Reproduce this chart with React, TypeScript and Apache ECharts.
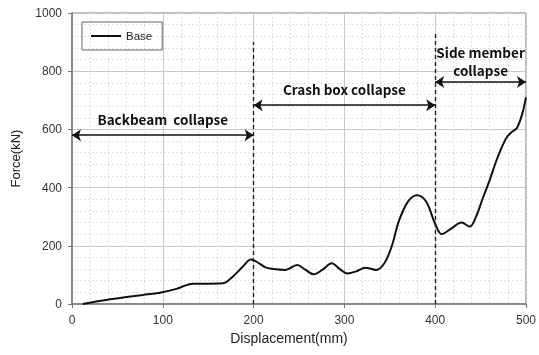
import React, { useEffect, useRef } from "react";
import * as echarts from "echarts";

const displacement = [12, 25, 42, 60, 78, 97, 115, 133, 150, 166, 177, 188, 197, 206, 213, 220, 235, 248, 257, 266, 276, 286, 295, 303, 313, 323, 335, 344, 352, 360, 370, 380, 390, 400, 407, 418, 429, 438, 445, 452, 460, 469, 478, 484, 490, 496, 500];
const force = [0, 8, 16, 24, 31, 39, 52, 70, 70, 71, 94, 128, 153, 140, 126, 121, 117, 134, 118, 102, 118, 140, 120, 105, 112, 125, 117, 140, 197, 285, 352, 374, 352, 275, 240, 260, 280, 266, 300, 360, 426, 506, 569, 590, 605, 655, 710];

const phaseBounds = [0, 200, 400, 500];
const phaseArrowY = [580, 683, 763];
const phaseLabels = ["Backbeam  collapse", "Crash box collapse", "Side member\ncollapse"];
const dividerX = [200, 400];
const dividerTop = [900, 930];

export default function App() {
  const ref = useRef<HTMLDivElement>(null);
  useEffect(() => {
    const chart = echarts.init(ref.current!, null, { renderer: "svg" });
    const data = displacement.map((d, i) => [d, force[i]]);
    const annoFont = {
      fontFamily: "Noto Sans CJK KR",
      fontSize: 13.5,
      fontWeight: "bold" as const,
      color: "#111",
    };
    const markData: any[] = [];
    for (let i = 0; i < 3; i++) {
      markData.push([
        {
          coord: [phaseBounds[i], phaseArrowY[i]],
          symbol: "arrow",
          label: {
            show: true,
            position: "insideMiddleTop",
            formatter: phaseLabels[i],
            distance: i === 2 ? 3 : 8,
            lineHeight: i === 2 ? 18 : 16,
            ...annoFont,
          },
        },
        { coord: [phaseBounds[i + 1], phaseArrowY[i]], symbol: "arrow" },
      ]);
    }
    for (let i = 0; i < 2; i++) {
      markData.push([
        {
          coord: [dividerX[i], 0],
          symbol: "none",
          lineStyle: { type: [4, 3], width: 1.4, color: "#222" },
          label: { show: false },
        },
        { coord: [dividerX[i], dividerTop[i]], symbol: "none" },
      ]);
    }
    chart.setOption({
      animation: false,
      grid: {
        left: 72,
        right: 11,
        top: 13,
        bottom: 51,
        show: true,
        borderColor: "#777",
        borderWidth: 1,
      },
      legend: {
        left: 82,
        top: 22,
        data: [{ name: "Base", icon: "rect" }],
        borderColor: "#666",
        borderWidth: 1,
        padding: [8, 10, 8, 9],
        itemWidth: 30,
        itemHeight: 2,
        itemGap: 6,
        textStyle: { fontFamily: "Liberation Sans", fontSize: 11.5, color: "#222" },
      },
      xAxis: {
        type: "value",
        min: 0,
        max: 500,
        interval: 100,
        name: "Displacement(mm)",
        nameLocation: "middle",
        nameGap: 26,
        nameTextStyle: {
          fontFamily: "Liberation Sans",
          fontSize: 14,
          color: "#222",
          padding: [0, 20, 0, 0],
        },
        axisLine: { lineStyle: { color: "#777", width: 1.5 } },
        axisTick: { show: true, length: 4, lineStyle: { color: "#777" } },
        axisLabel: { fontFamily: "Liberation Sans", fontSize: 12, color: "#333", margin: 10 },
        splitLine: { show: true, lineStyle: { color: "#c8c8c8", width: 1 } },
        minorTick: { show: false, splitNumber: 5 },
        minorSplitLine: { show: true, lineStyle: { color: "#e2e2e2", type: [2, 2], width: 1 } },
      },
      yAxis: {
        type: "value",
        min: 0,
        max: 1000,
        interval: 200,
        name: "Force(kN)",
        nameLocation: "middle",
        nameGap: 50,
        nameTextStyle: { fontFamily: "Liberation Sans", fontSize: 13, color: "#222" },
        axisLine: { show: true, lineStyle: { color: "#777", width: 1.5 } },
        axisTick: { show: true, length: 4, lineStyle: { color: "#777" } },
        axisLabel: {
          fontFamily: "Liberation Sans",
          fontSize: 12,
          color: "#333",
          margin: 10,
          formatter: (v: number) => String(v),
        },
        splitLine: { show: true, lineStyle: { color: "#c8c8c8", width: 1 } },
        minorTick: { show: false, splitNumber: 5 },
        minorSplitLine: { show: true, lineStyle: { color: "#e2e2e2", type: [2, 2], width: 1 } },
      },
      series: [
        {
          name: "Base",
          type: "line",
          data,
          smooth: 0.35,
          symbol: "none",
          showSymbol: false,
          lineStyle: { color: "#111", width: 2 },
          itemStyle: { color: "#111" },
          markLine: {
            silent: true,
            symbolSize: 9,
            lineStyle: { type: "solid", color: "#111", width: 1.5 },
            data: markData,
          },
        },
      ],
    });
    return () => chart.dispose();
  }, []);
  return (
    <div
      ref={ref}
      style={{ position: "fixed", left: 0, top: 0, width: 539, height: 355 }}
    />
  );
}
